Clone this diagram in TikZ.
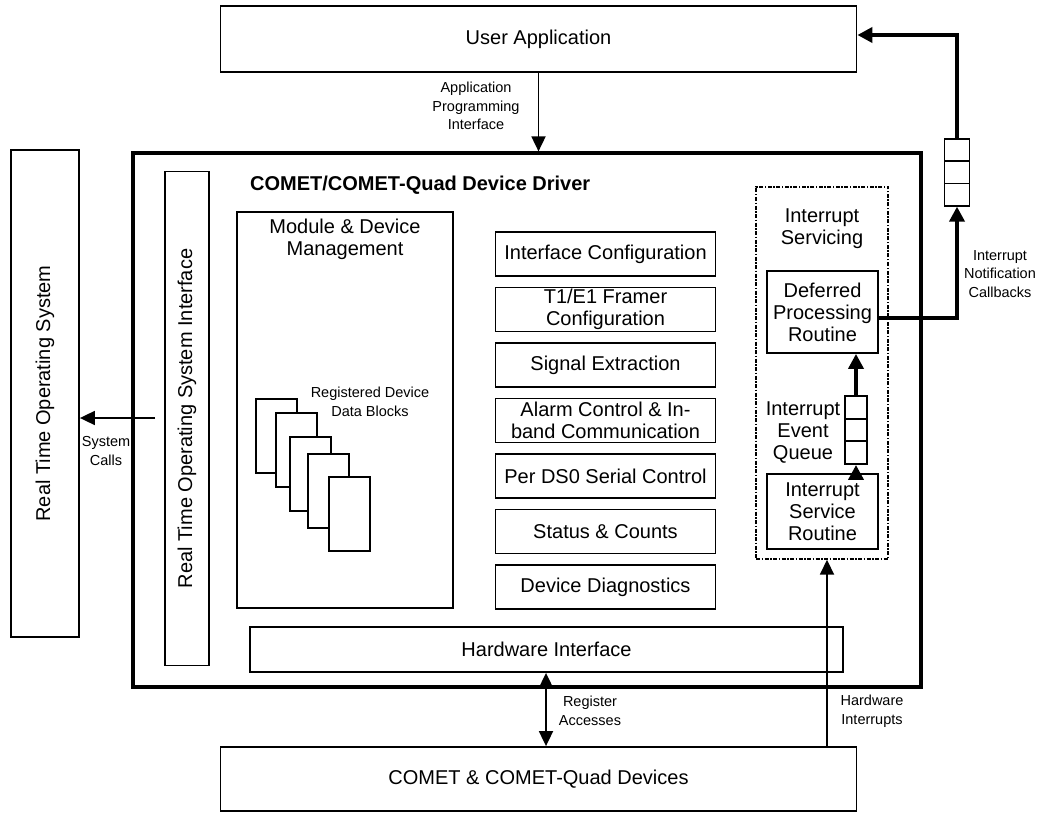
\documentclass[tikz,border=0pt]{standalone}
\usepackage{fontspec}
\setmainfont{Liberation Sans}
\usetikzlibrary{arrows.meta,positioning}

\tikzset{
  blk/.style={draw, line width=1.8pt, fill=white, align=center, inner sep=0pt,
    font=\fontsize{20}{22}\selectfont},
  lbl/.style={align=center, inner sep=0pt, font=\fontsize{14.5}{18.5}\selectfont},
  big/.style={align=center, inner sep=0pt, font=\fontsize{20}{22}\selectfont},
  cell/.style={draw, line width=1.8pt, fill=white, inner sep=0pt},
  arr/.style={line width=1.8pt, -{Triangle[length=15pt,width=14pt]}},
  fat/.style={line width=3.8pt, -{Triangle[length=15pt,width=15pt]}},
}

\begin{document}
\begin{tikzpicture}[x=1pt,y=-1pt]
\useasboundingbox (0,0) rectangle (1044,813);

% outer world
\node[blk, minimum width=636pt, minimum height=66pt] (user) at (538.5,39) {User Application};
\node[blk, minimum width=636pt, minimum height=64pt] (dev) at (538.5,779) {COMET \& COMET-Quad Devices};
\node[blk, minimum width=68pt, minimum height=487pt] (rtos) at (45,393.5)
  {\rotatebox{90}{Real Time Operating System}};

% the driver
\node[draw, line width=3.2pt, minimum width=788pt, minimum height=534pt] (drv) at (527,420) {};
\node[anchor=west, inner sep=0pt, font=\bfseries\fontsize{20}{22}\selectfont] (title) at (250,185)
  {COMET/COMET-Quad Device Driver};
\node[blk, minimum width=44pt, minimum height=494pt] (rtosi) at (187,418.5)
  {\rotatebox{90}{Real Time Operating System Interface}};
\node[blk, minimum width=593pt, minimum height=45pt] (hwif) at (546.5,649.5) {Hardware Interface};

% module and device management
\node[blk, minimum width=216pt, minimum height=396pt] (mdm) at (345,410) {};
\node[big] (mdmtxt) at (345,239) {Module \& Device\\Management};
\foreach \i/\x/\y in {1/255/398, 2/275/412, 3/289/436, 4/307/453, 5/328/476}
  \node[cell, minimum width=41pt, minimum height=74pt, anchor=north west] (db\i) at (\x,\y) {};
\node[lbl] (dbtxt) at (370,402) {Registered Device\\Data Blocks};

% functional blocks
\foreach \t [count=\i] in {Interface Configuration, T1/E1 Framer\\Configuration, Signal Extraction,
    Alarm Control \& In-\\band Communication, Per DS0 Serial Control, Status \& Counts, Device Diagnostics}
  \node[blk, minimum width=220pt, minimum height=44pt] (fn\i) at (605.5,{254+55.5*(\i-1)}) {\t};

% interrupt servicing
\node[draw, line width=1.4pt, dash pattern=on 4pt off 1.5pt on 1.5pt off 1.5pt,
  minimum width=132pt, minimum height=372pt] (isv) at (822,373) {};
\node[big] (isvtxt) at (822,229) {Interrupt\\Servicing};
\node[blk, minimum width=111pt, minimum height=82pt] (dpr) at (822.5,312) {Deferred\\Processing\\Routine};
\node[blk, minimum width=111pt, minimum height=75pt] (isr) at (822.5,511.5) {Interrupt\\Service\\Routine};
\foreach \i in {1,2,3}
  \node[cell, minimum width=22pt, minimum height=22.7pt] (eq\i) at (856,{407.3+22.7*(\i-1)}) {};
\node[big] (eqtxt) at (803,433) {Interrupt\\Event\\Queue};

% notification queue
\foreach \i in {1,2,3}
  \node[cell, minimum width=25pt, minimum height=22.3pt] (nq\i) at (957,{150+22.3*(\i-1)}) {};

% connectors
\draw[arr] (user.south) -- (user.south |- drv.north);
\node[lbl] (apitxt) at (476,106) {Application\\Programming\\Interface};

\coordinate (calls) at (155,418);
\draw[arr] (calls) -- (calls -| rtos.east);
\node[lbl] (callstxt) at (106,451) {System\\Calls};

\coordinate (reg) at (546,0);
\draw[line width=1.8pt, {Triangle[length=15pt,width=14pt]}-{Triangle[length=15pt,width=14pt]}]
  (reg |- hwif.south) -- (reg |- dev.north);
\node[lbl] (regtxt) at (590,711) {Register\\Accesses};

\coordinate (hwi) at (827,0);
\draw[arr] (hwi |- dev.north) -- (hwi |- isv.south);
\node[lbl] (hwitxt) at (872,711) {Hardware\\Interrupts};

\draw[fat] (isr.north -| eq3) -- (eq3.south);
\draw[fat] (eq1.north) -- (eq1.north |- dpr.south);
\draw[fat] ([yshift=-6pt]dpr.east) -| (nq3.south);
\draw[fat] (nq1.north) |- ([yshift=4pt]user.east);
\node[lbl] (nottxt) at (1000,274) {Interrupt\\Notification\\Callbacks};

\end{tikzpicture}
\end{document}
